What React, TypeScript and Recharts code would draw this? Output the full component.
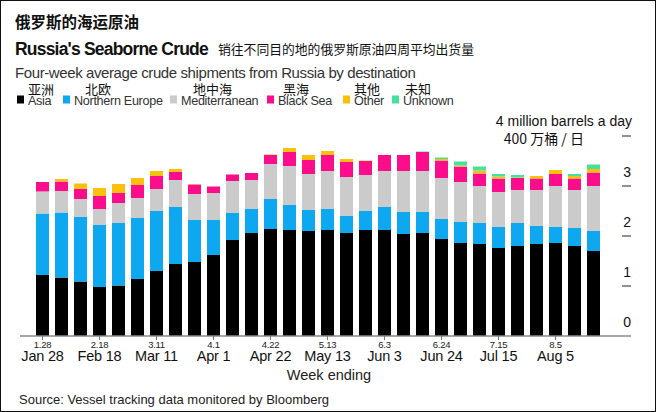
import {Bar, BarChart, XAxis, YAxis} from 'recharts';

// weeks ending (short Chinese-style labels + English labels)
const weeks = [
  '1.28', '2.4', '2.11', '2.18', '2.25', '3.4', '3.11', '3.18', '3.25', '4.1',
  '4.8', '4.15', '4.22', '4.29', '5.6', '5.13', '5.20', '5.27', '6.3', '6.10',
  '6.17', '6.24', '7.1', '7.8', '7.15', '7.22', '7.29', '8.5', '8.12', '8.19',
];
const weekLabels = [
  'Jan 28', 'Feb 4', 'Feb 11', 'Feb 18', 'Feb 25', 'Mar 4', 'Mar 11', 'Mar 18', 'Mar 25', 'Apr 1',
  'Apr 8', 'Apr 15', 'Apr 22', 'Apr 29', 'May 6', 'May 13', 'May 20', 'May 27', 'Jun 3', 'Jun 10',
  'Jun 17', 'Jun 24', 'Jul 1', 'Jul 8', 'Jul 15', 'Jul 22', 'Jul 29', 'Aug 5', 'Aug 12', 'Aug 19',
];

// million barrels a day
const asia = [
  1.22, 1.17, 1.09, 0.98, 1.01, 1.14, 1.3, 1.44, 1.48, 1.62,
  1.92, 2.06, 2.14, 2.12, 2.1, 2.12, 2.06, 2.12, 2.12, 2.04,
  2.06, 1.94, 1.86, 1.84, 1.76, 1.8, 1.84, 1.86, 1.8, 1.7,
];
const northernEurope = [
  1.23, 1.3, 1.29, 1.24, 1.25, 1.22, 1.2, 1.14, 0.84, 0.7,
  0.54, 0.48, 0.6, 0.5, 0.42, 0.42, 0.34, 0.38, 0.46, 0.44,
  0.42, 0.4, 0.42, 0.42, 0.42, 0.46, 0.36, 0.32, 0.36, 0.4,
];
const mediterranean = [
  0.44, 0.43, 0.36, 0.32, 0.4, 0.4, 0.44, 0.54, 0.52, 0.54,
  0.64, 0.58, 0.7, 0.78, 0.72, 0.76, 0.78, 0.72, 0.72, 0.82,
  0.82, 0.82, 0.8, 0.74, 0.7, 0.66, 0.72, 0.82, 0.76, 0.9,
];
const blackSea = [
  0.19, 0.19, 0.2, 0.26, 0.2, 0.26, 0.26, 0.16, 0.19, 0.13,
  0.13, 0.14, 0.18, 0.28, 0.28, 0.32, 0.3, 0.28, 0.32, 0.32,
  0.38, 0.35, 0.31, 0.25, 0.27, 0.24, 0.23, 0.24, 0.23, 0.27,
];
const other = [
  0, 0.05, 0.11, 0.16, 0.18, 0.14, 0.1, 0.06, 0.01, 0,
  0, 0, 0.01, 0.08, 0.1, 0.08, 0.06, 0.01, 0, 0,
  0, 0.03, 0.02, 0.06, 0.04, 0.01, 0.05, 0.08, 0.05, 0.07,
];
const unknown = [
  0, 0, 0, 0, 0, 0, 0, 0, 0, 0,
  0, 0, 0, 0, 0, 0, 0, 0, 0, 0,
  0.01, 0.03, 0.08, 0.08, 0.05, 0.05, 0, 0, 0.04, 0.09,
];

const yTicks = [0, 1, 2, 3, 4];

const series = [
  {key: 'asia', name: 'Asia', zh: '亚洲', color: '#000000', values: asia},
  {key: 'northernEurope', name: 'Northern Europe', zh: '北欧', color: '#0ea8f0', values: northernEurope},
  {key: 'mediterranean', name: 'Mediterranean', zh: '地中海', color: '#cbcbcb', values: mediterranean},
  {key: 'blackSea', name: 'Black Sea', zh: '黑海', color: '#fb0d8b', values: blackSea},
  {key: 'other', name: 'Other', zh: '其他', color: '#fcbf0c', values: other},
  {key: 'unknown', name: 'Unknown', zh: '未知', color: '#45e39a', values: unknown},
];

// legend layout (image coordinates)
const legendSquareX = [17, 63, 170, 267, 343, 392];
const legendZhX = [28, 85, 193, 283, 354, 405];

const FONT = '"Liberation Sans", Arial, sans-serif';
const CJK = '"Noto Sans CJK SC", sans-serif';

const data = weeks.map((week, i) => {
  const row: Record<string, string | number> = {week};
  series.forEach((s) => {
    row[s.key] = s.values[i];
  });
  return row;
});

function WeekTick(props: any) {
  const {x, y, payload} = props;
  return (
    <g>
      <line x1={x} x2={x} y1={y} y2={y + 4} stroke="#777" strokeWidth={1} />
      <text x={x} y={y + 11.5} textAnchor="middle" fontSize={9.5} fontFamily={FONT} fill="#222" letterSpacing={-0.3}>
        {payload.value}
      </text>
      <text x={x} y={y + 25} textAnchor="middle" fontSize={14.5} fontFamily={FONT} fill="#111" letterSpacing={-0.2}>
        {weekLabels[payload.index]}
      </text>
    </g>
  );
}

function ValueTick(props: any) {
  const {x, y, payload} = props;
  if (payload.value === 4) {
    return (
      <g>
        <line x1={x - 9} x2={x} y1={y} y2={y} stroke="#222" strokeWidth={1} />
        <text x={x + 1} y={y - 10} textAnchor="end" fontSize={14} fontFamily={FONT} fill="#111">
          4 million barrels a day
        </text>
        <text x={x - 47} y={y + 8} textAnchor="end" fontSize={14} fontFamily={CJK} fill="#111">
          400 万桶 / 日
        </text>
      </g>
    );
  }
  return (
    <g>
      {payload.value !== 0 && <line x1={x - 9} x2={x} y1={y} y2={y} stroke="#222" strokeWidth={1} />}
      <text x={x} y={y - 9} textAnchor="end" fontSize={14} fontFamily={FONT} fill="#111">
        {payload.value}
      </text>
    </g>
  );
}

export default function App() {
  return (
    <div style={{position: 'absolute', top: 0, left: 0, width: 656, height: 412, background: '#fff', overflow: 'hidden'}}>
      <BarChart
        width={656}
        height={412}
        data={data}
        margin={{top: 136, right: 23, bottom: 36, left: 20}}
        barSize={13}
      >
        <XAxis
          dataKey="week"
          interval={2}
          height={40}
          tickSize={0}
          tickMargin={0}
          tickLine={false}
          axisLine={{stroke: '#8a8a8a', strokeWidth: 1.5}}
          padding={{left: 13, right: 28}}
          tick={(p: any) => <WeekTick {...p} />}
        />
        <YAxis
          orientation="right"
          width={2}
          domain={[0, 4]}
          ticks={yTicks}
          tickSize={0}
          tickMargin={0}
          tickLine={false}
          axisLine={false}
          tick={(p: any) => <ValueTick {...p} />}
        />
        {series.map((s) => (
          <Bar key={s.key} dataKey={s.key} name={s.name} stackId="a" fill={s.color} isAnimationActive={false} />
        ))}
      </BarChart>

      <svg width={656} height={412} style={{position: 'absolute', top: 0, left: 0, pointerEvents: 'none'}}>
        <text x={15} y={28} fontSize={15.5} fontWeight={700} fontFamily={CJK} fill="#111">
          俄罗斯的海运原油
        </text>
        <text x={15} y={55} fontSize={17.5} fontWeight={700} fontFamily={FONT} fill="#111" letterSpacing={-0.8}>
          Russia's Seaborne Crude
        </text>
        <text x={218} y={54} fontSize={12.8} fontFamily={CJK} fill="#111">
          销往不同目的地的俄罗斯原油四周平均出货量
        </text>
        <text x={15} y={78} fontSize={15} fontFamily={FONT} fill="#333" letterSpacing={-0.4}>
          Four-week average crude shipments from Russia by destination
        </text>

        {series.map((s, i) => (
          <g key={s.key}>
            <rect x={legendSquareX[i]} y={95.5} width={7} height={8} fill={s.color} />
            <text x={legendSquareX[i] + 11} y={104.5} fontSize={12.6} fontFamily={FONT} fill="#333" letterSpacing={-0.3}>
              {s.name}
            </text>
            <text x={legendZhX[i]} y={93.5} fontSize={13} fontFamily={CJK} fill="#111">
              {s.zh}
            </text>
          </g>
        ))}

        <text x={329} y={380} textAnchor="middle" fontSize={14.5} fontFamily={FONT} fill="#222">
          Week ending
        </text>
        <text x={19} y={404} fontSize={13} fontFamily={FONT} fill="#222">
          Source: Vessel tracking data monitored by Bloomberg
        </text>
      </svg>
      <div
        style={{
          position: 'absolute',
          inset: 0,
          border: '1.5px solid #111',
          pointerEvents: 'none',
        }}
      />
    </div>
  );
}
